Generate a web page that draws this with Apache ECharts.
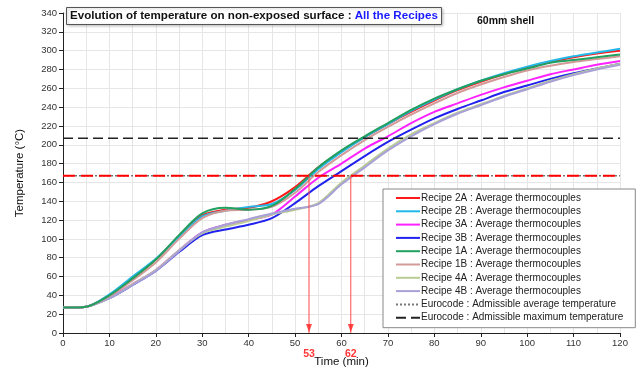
<!DOCTYPE html>
<html>
<head>
<meta charset="utf-8">
<script src="https://cdn.jsdelivr.net/npm/echarts@6/dist/echarts.min.js"></script>
<style>
  html, body { margin: 0; padding: 0; background: #fff; }
  #chart { width: 644px; height: 370px; }
</style>
</head>
<body>
<div id="chart"></div>
<script>
// time in minutes
var times = [0, 5, 10, 15, 20, 25, 30, 35, 40, 45, 50, 55, 60, 65, 70, 75, 80, 85, 90, 95, 100, 105, 110, 115, 120];

// average thermocouple temperature (°C) per recipe
var recipe2A = [27, 28, 40, 58, 78, 103, 125, 131, 133, 140, 155, 176, 193, 208, 222, 235, 247, 258, 267, 275, 282, 288, 293, 297, 300];
var recipe2B = [27, 28, 41, 60, 79, 102, 124, 130, 134, 137, 152, 174, 192, 208, 222, 236, 248, 259, 268, 276, 283, 289, 294, 298, 302];
var recipe3A = [27, 28, 38, 52, 67, 88, 107, 115, 120, 126, 145, 165, 180, 196, 209, 223, 235, 244, 253, 261, 268, 275, 280, 285, 289];
var recipe3B = [27, 28, 37, 51, 66, 86, 104, 110, 115, 122, 138, 156, 172, 188, 203, 216, 228, 238, 247, 256, 263, 270, 276, 281, 286];
var recipe1A = [27, 28, 40, 58, 78, 104, 127, 133, 131, 135, 153, 176, 194, 209, 223, 237, 249, 259, 268, 275, 281, 287, 290, 293, 296];
var recipe1B = [27, 28, 39, 56, 75, 100, 122, 130, 131, 134, 149, 171, 189, 205, 219, 232, 244, 255, 264, 272, 279, 284, 288, 291, 294];
var recipe4A = [27, 28, 37, 52, 67, 88, 106, 113, 119, 126, 131, 138, 160, 178, 196, 211, 223, 234, 243, 252, 260, 268, 275, 281, 286];
var recipe4B = [27, 28, 37, 51, 66, 87, 107, 115, 121, 127, 132, 137, 158, 176, 194, 209, 222, 233, 242, 251, 259, 267, 274, 280, 285];

// Eurocode limits (°C) and times at which they are reached (min)
var limitRange = [0, 120];
var admissibleAverage = 167;
var admissibleMaximum = 207;
var reachedTimes = [53, 62];

var yTicks = { min: 0, max: 340, interval: 20 };
var xTicks = { min: 0, max: 120, interval: 10 };

function pairs(values) {
  return times.map(function (t, i) { return [t, values[i]]; });
}

function curve(name, values, color) {
  return {
    name: name,
    type: "line",
    data: pairs(values),
    smooth: 0.3,
    symbol: "none",
    lineStyle: { color: color, width: 2 },
    itemStyle: { color: color }
  };
}

var textFont = "Liberation Sans";
var markRed = "#ff4a4a";

var series = [
  curve("Recipe 2A : Average thermocouples", recipe2A, "#ff1a1a"),
  curve("Recipe 2B : Average thermocouples", recipe2B, "#22b8e8"),
  curve("Recipe 3A : Average thermocouples", recipe3A, "#ff22ff"),
  curve("Recipe 3B : Average thermocouples", recipe3B, "#2222ee"),
  curve("Recipe 4A : Average thermocouples", recipe4A, "#b8cc94"),
  curve("Recipe 4B : Average thermocouples", recipe4B, "#a8a0d6"),
  curve("Recipe 1B : Average thermocouples", recipe1B, "#d39a98"),
  curve("Recipe 1A : Average thermocouples", recipe1A, "#22a060"),
  {
    name: "Eurocode : Admissible average temperature",
    type: "line",
    data: limitRange.map(function (t) { return [t, admissibleAverage]; }),
    symbol: "none",
    lineStyle: { color: "#777", width: 1.5, type: [2, 2] },
    itemStyle: { color: "#777" },
    z: 3
  },
  {
    name: "Eurocode : Admissible maximum temperature",
    type: "line",
    data: limitRange.map(function (t) { return [t, admissibleMaximum]; }),
    symbol: "none",
    lineStyle: { color: "#222", width: 1.5, type: [10, 5] },
    itemStyle: { color: "#222" },
    z: 3
  },
  {
    // red dashed line at the admissible average temperature
    type: "line",
    data: limitRange.map(function (t) { return [t, admissibleAverage]; }),
    symbol: "none",
    lineStyle: { color: "#ff0000", width: 2, type: [12, 6] },
    z: 4
  }
];

// vertical arrows down to the times when the average limit is reached
reachedTimes.forEach(function (t) {
  series.push({
    type: "line",
    data: [[t, admissibleAverage], [t, 0]],
    symbol: "none",
    lineStyle: { color: markRed, width: 1 },
    z: 4
  });
});
series.push({
  type: "scatter",
  data: reachedTimes.map(function (t) { return [t, 0]; }),
  symbol: "triangle",
  symbolRotate: 180,
  symbolSize: [6, 8],
  symbolOffset: [0, -5],
  itemStyle: { color: "#ff2020" },
  z: 5,
  label: {
    show: true,
    position: "bottom",
    distance: 17,
    color: "#ff0000",
    fontWeight: "bold",
    fontSize: 10.5,
    fontFamily: textFont,
    formatter: function (p) { return String(p.value[0]); }
  }
});

var option = {
  backgroundColor: "#fff",
  animation: false,
  textStyle: { fontFamily: textFont },
  title: [
    {
      text: "{a|Evolution of temperature on non-exposed surface : }{b|All the Recipes}",
      left: 66,
      top: 7,
      padding: [3, 4, 3, 4],
      borderColor: "#555",
      borderWidth: 1,
      backgroundColor: "#fff",
      shadowColor: "rgba(0,0,0,0.25)",
      shadowBlur: 3,
      shadowOffsetX: 1,
      shadowOffsetY: 1,
      textStyle: {
        rich: {
          a: { fontSize: 11.6, color: "#111", fontFamily: textFont },
          b: { fontSize: 11.6, color: "#1a1aff", fontFamily: textFont }
        }
      }
    },
    {
      text: "60mm shell",
      left: 472,
      top: 11,
      textStyle: { fontSize: 10.5, fontWeight: "bold", color: "#111", fontFamily: textFont }
    }
  ],
  legend: {
    orient: "vertical",
    left: 383,
    top: 189,
    padding: [4, 12, 5, 12],
    itemGap: 3.3,
    itemWidth: 24,
    itemHeight: 10,
    backgroundColor: "#fff",
    borderColor: "#888",
    borderWidth: 1,
    itemStyle: { opacity: 0 },
    textStyle: { fontSize: 10, color: "#222", fontFamily: textFont, padding: [0, 0, 0, -4] },
    data: [
      "Recipe 2A : Average thermocouples",
      "Recipe 2B : Average thermocouples",
      "Recipe 3A : Average thermocouples",
      "Recipe 3B : Average thermocouples",
      "Recipe 1A : Average thermocouples",
      "Recipe 1B : Average thermocouples",
      "Recipe 4A : Average thermocouples",
      "Recipe 4B : Average thermocouples",
      "Eurocode : Admissible average temperature",
      "Eurocode : Admissible maximum temperature"
    ]
  },
  grid: { left: 63, right: 24, top: 13, bottom: 37, outerBoundsMode: "none" },
  xAxis: {
    type: "value",
    min: xTicks.min,
    max: xTicks.max,
    interval: xTicks.interval,
    name: "Time (min)",
    nameLocation: "middle",
    nameGap: 23,
    nameTextStyle: { fontSize: 11.5, color: "#111" },
    axisLine: { show: true, lineStyle: { color: "#222", width: 1 } },
    axisTick: { show: true, length: 4, lineStyle: { color: "#222" } },
    axisLabel: { fontSize: 9.5, color: "#333", margin: 5 },
    splitLine: { show: true, lineStyle: { color: "#e6e6e6" } },
    minorTick: { show: false, splitNumber: 2 },
    minorSplitLine: { show: true, lineStyle: { color: "#e6e6e6" } }
  },
  yAxis: {
    type: "value",
    min: yTicks.min,
    max: yTicks.max,
    interval: yTicks.interval,
    name: "Temperature (°C)",
    nameLocation: "middle",
    nameGap: 37,
    nameTextStyle: { fontSize: 11.5, color: "#111" },
    axisLine: { show: true, lineStyle: { color: "#222", width: 1 } },
    axisTick: { show: true, length: 4, lineStyle: { color: "#222" } },
    axisLabel: { fontSize: 9.5, color: "#333", margin: 6 },
    splitLine: { show: true, lineStyle: { color: "#e6e6e6" } }
  },
  series: series
};

var myChart = echarts.init(document.getElementById("chart"), null, { renderer: "canvas" });
myChart.setOption(option);
</script>
</body>
</html>
